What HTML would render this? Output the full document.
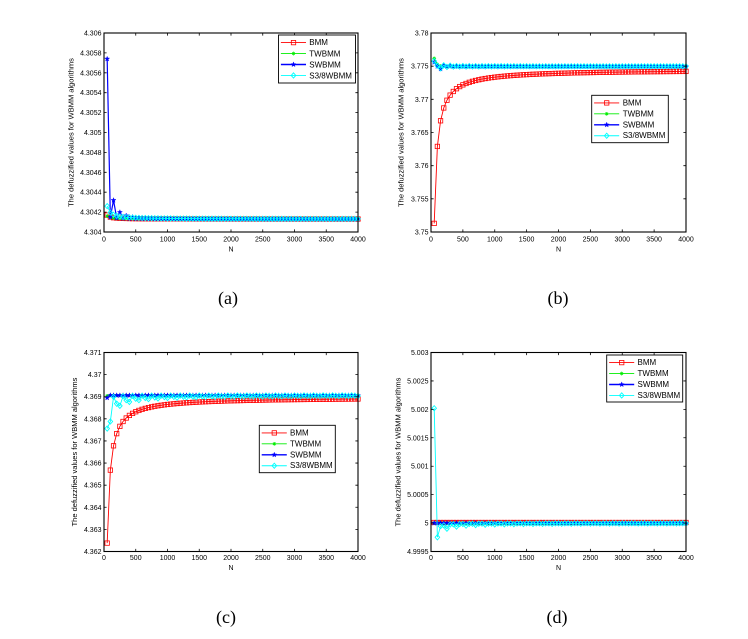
<!DOCTYPE html>
<html>
<head>
<meta charset="utf-8">
<style>
html,body{margin:0;padding:0;background:#fff;}
svg{display:block;}
.t{font-family:"Liberation Sans",Arial,sans-serif;font-size:7px;fill:#000;}
.l{font-family:"Liberation Sans",Arial,sans-serif;font-size:8px;fill:#000;}
.y{font-family:"Liberation Sans",Arial,sans-serif;font-size:7.5px;fill:#000;}
.c{font-family:"Liberation Serif","Times New Roman",serif;font-size:18px;fill:#000;}
</style>
</head>
<body>
<svg id="s" width="748" height="639" viewBox="0 0 748 639" xmlns="http://www.w3.org/2000/svg">
<rect width="748" height="639" fill="#fff"/>
<g id="series"></g>
<g id="axes" fill="none" stroke="#000" stroke-width="1.1">
<rect x="104" y="33" width="254" height="199"/>
<rect x="431" y="33" width="255" height="199"/>
<rect x="104" y="352.5" width="254" height="199"/>
<rect x="431" y="352.5" width="255" height="199"/>
</g>
<g id="ticks" stroke="#000" stroke-width="0.8"></g>

<!-- Plot (a) labels -->
<g class="t" text-anchor="end">
<text x="101.5" y="234.5">4.304</text>
<text x="101.5" y="214.6">4.3042</text>
<text x="101.5" y="194.7">4.3044</text>
<text x="101.5" y="174.8">4.3046</text>
<text x="101.5" y="154.9">4.3048</text>
<text x="101.5" y="135">4.305</text>
<text x="101.5" y="115.1">4.3052</text>
<text x="101.5" y="95.2">4.3054</text>
<text x="101.5" y="75.3">4.3056</text>
<text x="101.5" y="55.4">4.3058</text>
<text x="101.5" y="35.5">4.306</text>
</g>
<g class="t" text-anchor="middle">
<text x="104" y="241.5">0</text>
<text x="135.75" y="241.5">500</text>
<text x="167.5" y="241.5">1000</text>
<text x="199.25" y="241.5">1500</text>
<text x="231" y="241.5">2000</text>
<text x="262.75" y="241.5">2500</text>
<text x="294.5" y="241.5">3000</text>
<text x="326.25" y="241.5">3500</text>
<text x="358" y="241.5">4000</text>
<text x="231" y="251.5">N</text>
</g>
<text class="y" text-anchor="middle" transform="translate(73.5,132.5) rotate(-90)">The defuzzified values for WBMM algorithms</text>

<!-- Plot (b) labels -->
<g class="t" text-anchor="end">
<text x="428.5" y="234.5">3.75</text>
<text x="428.5" y="201.3">3.755</text>
<text x="428.5" y="168.2">3.76</text>
<text x="428.5" y="135">3.765</text>
<text x="428.5" y="101.8">3.77</text>
<text x="428.5" y="68.7">3.775</text>
<text x="428.5" y="35.5">3.78</text>
</g>
<g class="t" text-anchor="middle">
<text x="431" y="241.5">0</text>
<text x="462.9" y="241.5">500</text>
<text x="494.75" y="241.5">1000</text>
<text x="526.6" y="241.5">1500</text>
<text x="558.5" y="241.5">2000</text>
<text x="590.4" y="241.5">2500</text>
<text x="622.25" y="241.5">3000</text>
<text x="654.1" y="241.5">3500</text>
<text x="686" y="241.5">4000</text>
<text x="558.5" y="251.5">N</text>
</g>
<text class="y" text-anchor="middle" transform="translate(403.5,132.5) rotate(-90)">The defuzzified values for WBMM algorithms</text>

<!-- Plot (c) labels -->
<g class="t" text-anchor="end">
<text x="101.5" y="554">4.362</text>
<text x="101.5" y="531.9">4.363</text>
<text x="101.5" y="509.8">4.364</text>
<text x="101.5" y="487.7">4.365</text>
<text x="101.5" y="465.6">4.366</text>
<text x="101.5" y="443.4">4.367</text>
<text x="101.5" y="421.3">4.368</text>
<text x="101.5" y="399.2">4.369</text>
<text x="101.5" y="377.1">4.37</text>
<text x="101.5" y="355">4.371</text>
</g>
<g class="t" text-anchor="middle">
<text x="104" y="560.2">0</text>
<text x="135.75" y="560.2">500</text>
<text x="167.5" y="560.2">1000</text>
<text x="199.25" y="560.2">1500</text>
<text x="231" y="560.2">2000</text>
<text x="262.75" y="560.2">2500</text>
<text x="294.5" y="560.2">3000</text>
<text x="326.25" y="560.2">3500</text>
<text x="358" y="560.2">4000</text>
<text x="231" y="570.2">N</text>
</g>
<text class="y" text-anchor="middle" transform="translate(77,452) rotate(-90)">The defuzzified values for WBMM algorithms</text>

<!-- Plot (d) labels -->
<g class="t" text-anchor="end">
<text x="428.5" y="554">4.9995</text>
<text x="428.5" y="525.6">5</text>
<text x="428.5" y="497.1">5.0005</text>
<text x="428.5" y="468.7">5.001</text>
<text x="428.5" y="440.3">5.0015</text>
<text x="428.5" y="411.9">5.002</text>
<text x="428.5" y="383.4">5.0025</text>
<text x="428.5" y="355">5.003</text>
</g>
<g class="t" text-anchor="middle">
<text x="431" y="560.2">0</text>
<text x="462.9" y="560.2">500</text>
<text x="494.75" y="560.2">1000</text>
<text x="526.6" y="560.2">1500</text>
<text x="558.5" y="560.2">2000</text>
<text x="590.4" y="560.2">2500</text>
<text x="622.25" y="560.2">3000</text>
<text x="654.1" y="560.2">3500</text>
<text x="686" y="560.2">4000</text>
<text x="558.5" y="570.2">N</text>
</g>
<text class="y" text-anchor="middle" transform="translate(400.7,452) rotate(-90)">The defuzzified values for WBMM algorithms</text>

<!-- Legends -->
<g fill="#fff" stroke="#000" stroke-width="0.9">
<rect x="278.5" y="35" width="77" height="48"/>
<rect x="591.7" y="95.3" width="76.6" height="47.4"/>
<rect x="259.3" y="425.3" width="76" height="47.4"/>
<rect x="606.7" y="355" width="76" height="47"/>
</g>
<g id="legmk"></g>
<g class="l">
<text x="309.3" y="45.2">BMM</text>
<text x="309.3" y="56.3">TWBMM</text>
<text x="309.3" y="67.4">SWBMM</text>
<text x="309.3" y="78.5">S3/8WBMM</text>

<text x="622.7" y="105.5">BMM</text>
<text x="622.7" y="116.4">TWBMM</text>
<text x="622.7" y="127.3">SWBMM</text>
<text x="622.7" y="138.2">S3/8WBMM</text>

<text x="290" y="435.5">BMM</text>
<text x="290" y="446.4">TWBMM</text>
<text x="290" y="457.3">SWBMM</text>
<text x="290" y="468.2">S3/8WBMM</text>

<text x="637.5" y="365.2">BMM</text>
<text x="637.5" y="376.1">TWBMM</text>
<text x="637.5" y="387">SWBMM</text>
<text x="637.5" y="397.9">S3/8WBMM</text>
</g>

<!-- Captions -->
<g class="c" text-anchor="middle">
<text x="228" y="304">(a)</text>
<text x="558" y="304">(b)</text>
<text x="226" y="623">(c)</text>
<text x="557" y="623">(d)</text>
</g>
</svg>
<script>
(function(){
var NS="http://www.w3.org/2000/svg";
function el(tag,a,p){var e=document.createElementNS(NS,tag);for(var k in a)e.setAttribute(k,a[k]);p.appendChild(e);return e;}
var COL={s:"#ff0000",a:"#00ee00",p:"#0000ff",d:"#00ffff"};
function mk(t,cx,cy,g){
  if(t==="s"){el("rect",{x:cx-2.2,y:cy-2.2,width:4.4,height:4.4,fill:"none",stroke:COL.s,"stroke-width":0.8},g);}
  else if(t==="a"){var r=1.9,q=r*0.7;
    el("path",{d:"M"+(cx-r)+","+cy+"H"+(cx+r)+"M"+cx+","+(cy-r)+"V"+(cy+r)+"M"+(cx-q)+","+(cy-q)+"L"+(cx+q)+","+(cy+q)+"M"+(cx-q)+","+(cy+q)+"L"+(cx+q)+","+(cy-q),stroke:COL.a,"stroke-width":0.7,fill:"none"},g);}
  else if(t==="p"){var pts=[];for(var i=0;i<10;i++){var ang=-Math.PI/2+i*Math.PI/5;var rr=(i%2===0)?2.6:1.1;pts.push((cx+rr*Math.cos(ang)).toFixed(2)+","+(cy+rr*Math.sin(ang)).toFixed(2));}
    el("polygon",{points:pts.join(" "),fill:COL.p,stroke:COL.p,"stroke-width":0.4},g);}
  else if(t==="d"){el("polygon",{points:cx+","+(cy-2.6)+" "+(cx+2.3)+","+cy+" "+cx+","+(cy+2.6)+" "+(cx-2.3)+","+cy,fill:"none",stroke:COL.d,"stroke-width":0.9},g);}
}
var K=80;
function arr(f){var a=[];for(var k=1;k<=K;k++)a.push(f(k,k*50));return a;}
// Plot a
var La=4.30413;
var a_b=arr(function(k,N){return La+0.00004/k;});
var a_t=arr(function(k,N){return La+0.00003/k;});
var a_s=arr(function(k,N){if(k===1)return 4.30574;if(k===2)return 4.30415;if(k%2===1)return La+0.0017/(k*k);return La+0.00004/k;});
var a_d=arr(function(k,N){return La+0.00013/k;});
// Plot b
var L2=3.77498;
var b_b=arr(function(k,N){return 3.7745-1.16/N;});
var b_t=arr(function(k,N){if(k===1)return L2+0.0012;if(k===2)return L2+0.0003;return L2+0.0001/k;});
var b_s=arr(function(k,N){var v=[0.0006,0,-0.0004,0.0001];if(k<=4)return L2+v[k-1];return L2+((k%2)?-1:1)*0.0002/k;});
var b_d=arr(function(k,N){var v=[0.0008,0.0001,-0.0003,0.00015,-0.0001,0.0001,-0.00005];if(k<=7)return L2+v[k-1];return L2+((k%2)?-1:1)*0.0004/k;});
// Plot c
var Lc=4.36906;
var c_b=arr(function(k,N){return 4.36898-0.33/N;});
var c_t=arr(function(k,N){return k===1?4.36904:Lc;});
var c_s=arr(function(k,N){return k===1?4.36895:Lc;});
var c_d=arr(function(k,N){var m=k%3;var e=m===0?0.01/N:(m===1?0.075/N:0.118/N);return Lc-e;});
// Plot d
var d_b=arr(function(){return 5.00001;});
var d_t=arr(function(){return 5.0;});
var d_s=arr(function(){return 5.0;});
var d_d=arr(function(k,N){if(k===1)return 5.00202;var m=k%3;var e=m===2?0.025/N:0.008/N;return 5-e;});

var plots=[
 {x0:104,x1:358,y0:33,y1:232,ymin:4.304,ymax:4.306,ny:11,s:[a_b,a_t,a_s,a_d]},
 {x0:431,x1:686,y0:33,y1:232,ymin:3.75,ymax:3.78,ny:7,s:[b_b,b_t,b_s,b_d]},
 {x0:104,x1:358,y0:352.5,y1:551.5,ymin:4.362,ymax:4.371,ny:10,s:[c_b,c_t,c_s,c_d]},
 {x0:431,x1:686,y0:352.5,y1:551.5,ymin:4.9995,ymax:5.003,ny:8,s:[d_b,d_t,d_s,d_d]}
];
var types=["s","a","p","d"];
var G=document.getElementById("series");
var T=document.getElementById("ticks");
plots.forEach(function(p){
  var g=el("g",{},G);
  for(var si=0;si<4;si++){
    var data=p.s[si],pts=[];
    for(var k=0;k<K;k++){
      var N=(k+1)*50;
      var x=p.x0+N/4000*(p.x1-p.x0);
      var y=p.y1-(data[k]-p.ymin)/(p.ymax-p.ymin)*(p.y1-p.y0);
      pts.push([x,y]);
    }
    el("polyline",{points:pts.map(function(q){return q[0].toFixed(2)+","+q[1].toFixed(2);}).join(" "),fill:"none",stroke:COL[types[si]],"stroke-width":si===2?1.2:0.9},g);
    pts.forEach(function(q){mk(types[si],q[0],q[1],g);});
  }
  // ticks
  var d="";
  for(var i=0;i<9;i++){var x=p.x0+i*(p.x1-p.x0)/8;d+="M"+x+","+p.y1+"v-2.6M"+x+","+p.y0+"v2.6";}
  for(var j=0;j<p.ny;j++){var y=p.y1-j*(p.y1-p.y0)/(p.ny-1);d+="M"+p.x0+","+y+"h2.6M"+p.x1+","+y+"h-2.6";}
  el("path",{d:d,fill:"none"},T);
});
// legend markers
var LG=document.getElementById("legmk");
var legs=[[278.5,35],[591.7,95.3],[259.3,425.3],[606.7,355]];
legs.forEach(function(L){
  for(var i=0;i<4;i++){
    var y=L[1]+7.6+i*10.95;
    el("line",{x1:L[0]+2.4,y1:y,x2:L[0]+27.5,y2:y,stroke:COL[types[i]],"stroke-width":i===2?1.4:0.9},LG);
    mk(types[i],L[0]+15,y,LG);
  }
});
})();
</script>
</body>
</html>
